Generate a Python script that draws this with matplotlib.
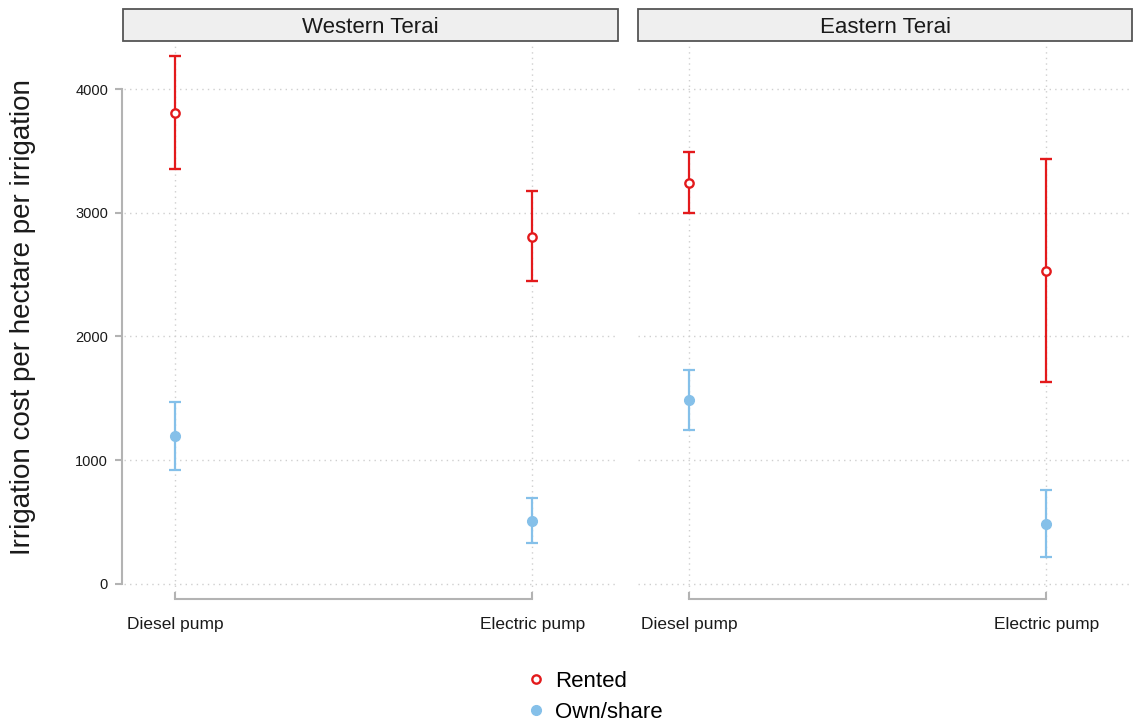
import matplotlib
matplotlib.use("Agg")
import matplotlib.pyplot as plt
from matplotlib.lines import Line2D
from matplotlib.patches import Rectangle

plt.rcParams['font.family'] = ['Liberation Sans', 'DejaVu Sans']

# ── Data ─────────────────────────────────────────────────────
regions = ['Western Terai', 'Eastern Terai']
pumps = ['Diesel pump', 'Electric pump']

rented_mean = {'Western Terai': [3806, 2804], 'Eastern Terai': [3240, 2532]}
rented_lo   = {'Western Terai': [3354, 2448], 'Eastern Terai': [2998, 1635]}
rented_hi   = {'Western Terai': [4267, 3176], 'Eastern Terai': [3491, 3434]}

own_mean = {'Western Terai': [1196, 509], 'Eastern Terai': [1487, 485]}
own_lo   = {'Western Terai': [921, 331],  'Eastern Terai': [1244, 218]}
own_hi   = {'Western Terai': [1471, 695], 'Eastern Terai': [1729, 760]}

y_ticks = [0, 1000, 2000, 3000, 4000]

# ── Style ────────────────────────────────────────────────────
RED   = '#e31a1c'
BLUE  = '#85c0e9'
GRID  = '#cfcfcf'
SPINE = '#b3b3b3'
TEXT  = '#1a1a1a'

W, H = 1137, 726
fig = plt.figure(figsize=(W / 100, H / 100), dpi=100)


def px_box(x0, x1, y_top, y_bot):
    return [x0 / W, 1 - y_bot / H, (x1 - x0) / W, (y_bot - y_top) / H]


panel_x = [(124, 618), (638, 1132)]
xpos = [1, 2]

for i, reg in enumerate(regions):
    x0, x1 = panel_x[i]
    ax = fig.add_axes(px_box(x0, x1, 42, 592))
    ax.set_xlim(0.857, 2.24)
    ax.set_ylim(-65, 4380)

    # grid
    for yt in y_ticks:
        ax.axhline(yt, color=GRID, lw=1, ls=(0, (1, 3)), zorder=0)
    for xp in xpos:
        ax.axvline(xp, color=GRID, lw=1, ls=(0, (1, 3)), zorder=0)

    m = rented_mean[reg]
    ax.errorbar(xpos, m,
                yerr=[[a - b for a, b in zip(m, rented_lo[reg])],
                      [b - a for a, b in zip(m, rented_hi[reg])]],
                fmt='o', color=RED, ecolor=RED, elinewidth=1.6, capsize=4.3,
                capthick=1.6, markersize=6, markerfacecolor='white',
                markeredgecolor=RED, markeredgewidth=1.7, zorder=3)
    m = own_mean[reg]
    ax.errorbar(xpos, m,
                yerr=[[a - b for a, b in zip(m, own_lo[reg])],
                      [b - a for a, b in zip(m, own_hi[reg])]],
                fmt='o', color=BLUE, ecolor=BLUE, elinewidth=1.6, capsize=4.3,
                capthick=1.6, markersize=7, zorder=3)

    for s in ['top', 'right']:
        ax.spines[s].set_visible(False)
    ax.spines['bottom'].set_position(('outward', 5))
    ax.spines['bottom'].set_bounds(1, 2)
    ax.spines['bottom'].set_color(SPINE)
    ax.spines['bottom'].set_linewidth(1.5)
    ax.set_xticks(xpos)
    ax.set_xticklabels(pumps, fontsize=12.5, color=TEXT)
    ax.tick_params(axis='x', direction='in', length=5, width=1.5,
                   color=SPINE, pad=13)

    if i == 0:
        ax.spines['left'].set_position(('outward', 1.5))
        ax.spines['left'].set_bounds(0, 4000)
        ax.spines['left'].set_color(SPINE)
        ax.spines['left'].set_linewidth(1.5)
        ax.set_yticks(y_ticks)
        ax.set_yticklabels([str(v) for v in y_ticks], fontsize=10.5, color=TEXT)
        ax.tick_params(axis='y', direction='out', length=5, width=1.5,
                       color=SPINE, pad=5)
        ax.set_ylabel('Irrigation cost per hectare per irrigation',
                      fontsize=20, color=TEXT, labelpad=28)
    else:
        ax.spines['left'].set_visible(False)
        ax.set_yticks([])

    # strip header
    sx0, sx1 = (123, 618) if i == 0 else (638, 1132)
    rect = Rectangle((sx0 / W, 1 - 41 / H), (sx1 - sx0) / W, 32 / H,
                     transform=fig.transFigure, facecolor='#efefef',
                     edgecolor='#555555', lw=1.3)
    fig.patches.append(rect)
    fig.text((sx0 + sx1) / 2 / W, 1 - 25 / H, reg, ha='center', va='center_baseline',
             fontsize=16, color=TEXT)

# ── Legend ───────────────────────────────────────────────────
handles = [
    Line2D([], [], marker='o', linestyle='none', color=RED,
           markerfacecolor='white', markeredgewidth=1.7, markersize=6),
    Line2D([], [], marker='o', linestyle='none', color=BLUE, markersize=7),
]
fig.legend(handles, ['Rented', 'Own/share'], loc='center',
           bbox_to_anchor=(0.522, 0.040), frameon=False, fontsize=16,
           handlelength=1, handletextpad=0.35, labelspacing=0.45)

fig.savefig('out.png', dpi=100, facecolor='white')
